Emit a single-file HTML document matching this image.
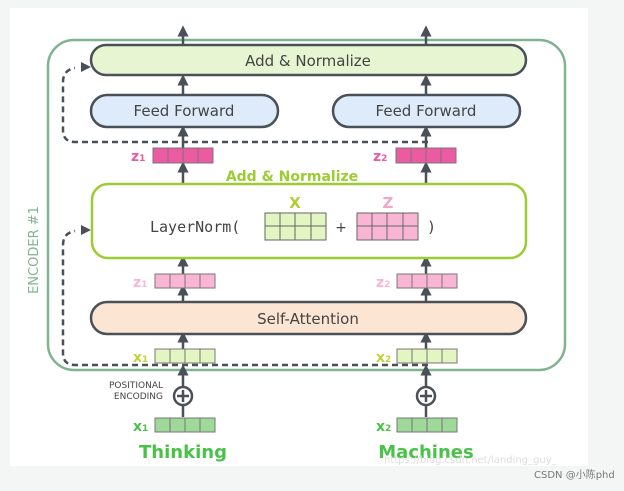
<!DOCTYPE html>
<html><head><style>
body{margin:0;background:#f4f5f5;}
</style></head><body>
<svg width="624" height="486" viewBox="0 0 624 486" xmlns="http://www.w3.org/2000/svg" font-family="'DejaVu Sans','Liberation Sans',sans-serif">
<defs>
<marker id="a" viewBox="0 0 10 10" refX="5" refY="5" markerWidth="4.5" markerHeight="4.5" orient="auto"><path d="M0,0L10,5L0,10z" fill="#4a5058"/></marker>
</defs>
<rect x="10" y="8" width="578" height="458" fill="#fff"/>
<rect x="48" y="40" width="517" height="330" rx="26" fill="none" stroke="#80b38f" stroke-width="2.5"/>
<text transform="translate(38,250) rotate(-90)" text-anchor="middle" font-size="13" fill="#80b38f">ENCODER #1</text>
<g stroke="#4a5058" stroke-width="2.5" marker-end="url(#a)">
<line x1="183" y1="45" x2="183" y2="31"/><line x1="426" y1="45" x2="426" y2="31"/>
<line x1="183" y1="95" x2="183" y2="80"/><line x1="426" y1="95" x2="426" y2="80"/>
<line x1="183" y1="148" x2="183" y2="131"/><line x1="426" y1="148" x2="426" y2="131"/>
<line x1="183" y1="183" x2="183" y2="167"/><line x1="426" y1="183" x2="426" y2="167"/>
<line x1="183" y1="274" x2="183" y2="261"/><line x1="426" y1="274" x2="426" y2="261"/>
<line x1="183" y1="302" x2="183" y2="290"/><line x1="426" y1="302" x2="426" y2="290"/>
<line x1="183" y1="349" x2="183" y2="337"/><line x1="426" y1="349" x2="426" y2="337"/>
<line x1="183" y1="386" x2="183" y2="370"/><line x1="426" y1="386" x2="426" y2="370"/>
</g>
<g stroke="#4a5058" stroke-width="2.5"><line x1="183" y1="406" x2="183" y2="417"/><line x1="426" y1="406" x2="426" y2="417"/></g>
<g fill="none" stroke="#4a5058" stroke-width="2.5" stroke-dasharray="6,4">
<path d="M428,142H75Q63,142 63,130V82Q63,70 75,68"/>
<path d="M428,365H75Q63,365 63,353V245Q63,233 75,231"/>
</g>
<path d="M81,62L91,67L81,72z M81,225L91,230L81,235z" fill="#4a5058"/>
<rect x="91" y="45" width="435" height="30" rx="15" fill="#e7f5d2" stroke="#4a5058" stroke-width="2.5"/>
<text x="308" y="66" text-anchor="middle" font-size="15" fill="#444">Add &amp; Normalize</text>
<rect x="91" y="95" width="187" height="32" rx="16" fill="#ddebfa" stroke="#4a5058" stroke-width="2.5"/>
<text x="184" y="116" text-anchor="middle" font-size="15" fill="#444">Feed Forward</text>
<rect x="333" y="95" width="187" height="32" rx="16" fill="#ddebfa" stroke="#4a5058" stroke-width="2.5"/>
<text x="426" y="116" text-anchor="middle" font-size="15" fill="#444">Feed Forward</text>
<text x="292" y="181" text-anchor="middle" font-size="14" font-weight="bold" fill="#9ccc33">Add &amp; Normalize</text>
<rect x="92" y="184" width="434" height="74" rx="16" fill="#fff" stroke="#9ccc33" stroke-width="2.5"/>
<text x="150" y="232" font-family="'DejaVu Sans Mono','Liberation Mono',monospace" font-size="15" fill="#444">LayerNorm(</text>
<text x="341" y="232" text-anchor="middle" font-size="14" fill="#444">+</text>
<text x="427" y="232" font-family="'DejaVu Sans Mono',monospace" font-size="15" fill="#444">)</text>
<text x="295" y="208" text-anchor="middle" font-size="15" font-weight="bold" fill="#b5cc33">X</text>
<text x="388" y="208" text-anchor="middle" font-size="15" font-weight="bold" fill="#f4a6c8">Z</text>
<g stroke="#666" stroke-width="1">
<rect x="265" y="213" width="61" height="27" fill="#e3f5c0"/><line x1="280" y1="213" x2="280" y2="240"/><line x1="295" y1="213" x2="295" y2="240"/><line x1="311" y1="213" x2="311" y2="240"/><line x1="265" y1="226" x2="326" y2="226"/>
<rect x="357" y="213" width="61" height="27" fill="#f8b6d4"/><line x1="372" y1="213" x2="372" y2="240"/><line x1="387" y1="213" x2="387" y2="240"/><line x1="403" y1="213" x2="403" y2="240"/><line x1="357" y1="226" x2="418" y2="226"/>
</g>
<rect x="91" y="302" width="435" height="32" rx="16" fill="#fde5d3" stroke="#4a5058" stroke-width="2.5"/>
<text x="308" y="324" text-anchor="middle" font-size="15" fill="#444">Self-Attention</text>
<g stroke="#777" stroke-width="1">
<g fill="#ec5aa2"><rect x="153" y="148" width="15" height="15"/><rect x="168" y="148" width="15" height="15"/><rect x="183" y="148" width="15" height="15"/><rect x="198" y="148" width="15" height="15"/>
<rect x="396" y="148" width="15" height="15"/><rect x="411" y="148" width="15" height="15"/><rect x="426" y="148" width="15" height="15"/><rect x="441" y="148" width="15" height="15"/></g>
<g fill="#f8b6d4"><rect x="155" y="274" width="15" height="14"/><rect x="170" y="274" width="15" height="14"/><rect x="185" y="274" width="15" height="14"/><rect x="200" y="274" width="15" height="14"/>
<rect x="397" y="274" width="15" height="14"/><rect x="412" y="274" width="15" height="14"/><rect x="427" y="274" width="15" height="14"/><rect x="442" y="274" width="15" height="14"/></g>
<g fill="#e3f5c0"><rect x="155" y="349" width="15" height="14"/><rect x="170" y="349" width="15" height="14"/><rect x="185" y="349" width="15" height="14"/><rect x="200" y="349" width="15" height="14"/>
<rect x="397" y="349" width="15" height="14"/><rect x="412" y="349" width="15" height="14"/><rect x="427" y="349" width="15" height="14"/><rect x="442" y="349" width="15" height="14"/></g>
<g fill="#9ed99a"><rect x="155" y="418" width="15" height="14"/><rect x="170" y="418" width="15" height="14"/><rect x="185" y="418" width="15" height="14"/><rect x="200" y="418" width="15" height="14"/>
<rect x="397" y="418" width="15" height="14"/><rect x="412" y="418" width="15" height="14"/><rect x="427" y="418" width="15" height="14"/><rect x="442" y="418" width="15" height="14"/></g>
</g>
<g font-weight="bold" font-size="14">
<text x="131" y="161" fill="#ec5aa2">z<tspan font-size="9">1</tspan></text>
<text x="373" y="161" fill="#ec5aa2">z<tspan font-size="9">2</tspan></text>
<text x="133" y="287" fill="#f8b6d4">z<tspan font-size="9">1</tspan></text>
<text x="376" y="287" fill="#f8b6d4">z<tspan font-size="9">2</tspan></text>
<text x="133" y="362" fill="#c2d23d">x<tspan font-size="9">1</tspan></text>
<text x="376" y="362" fill="#c2d23d">x<tspan font-size="9">2</tspan></text>
<text x="133" y="431" fill="#4ac24a">x<tspan font-size="9">1</tspan></text>
<text x="376" y="431" fill="#4ac24a">x<tspan font-size="9">2</tspan></text>
</g>
<text x="163" y="388" text-anchor="end" font-size="9" fill="#444">POSITIONAL</text>
<text x="163" y="399" text-anchor="end" font-size="9" fill="#444">ENCODING</text>
<g stroke="#4a5058" stroke-width="2.5" fill="#fff">
<circle cx="183" cy="396" r="9"/><circle cx="426" cy="396" r="9"/>
<path d="M177,396H189M183,390V402M420,396H432M426,390V402" fill="none"/>
</g>
<text x="183" y="458" text-anchor="middle" font-size="18" font-weight="bold" fill="#4ac24a">Thinking</text>
<text x="426" y="458" text-anchor="middle" font-size="18" font-weight="bold" fill="#4ac24a">Machines</text>
<text x="384" y="463" font-size="10" fill="#ddd">https://blog.csdn.net/landing_guy_</text>
<text x="534" y="478" font-size="10" fill="#777">CSDN @小陈phd</text>
</svg>
</body></html>
